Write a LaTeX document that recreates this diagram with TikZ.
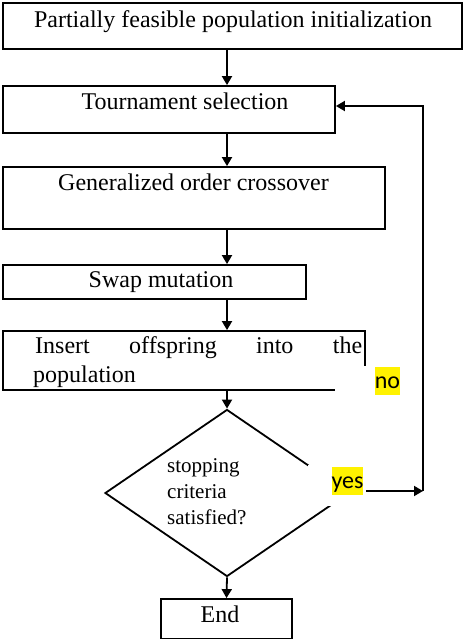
\documentclass[tikz,border=0pt]{standalone}
\usepackage{fontspec}
\setmainfont{Liberation Serif}
\newfontfamily\labelfont{Carlito}
\usetikzlibrary{arrows.meta,shapes.geometric}
\begin{document}
\begin{tikzpicture}[x=1pt,y=-1pt,
  stepbox/.style={draw,rectangle,line width=1.8pt,inner sep=0pt},
  txt/.style={inner sep=0pt,anchor=base,font=\fontsize{24}{29}\selectfont},
  arr/.style={line width=1.8pt,-{Triangle[length=9pt,width=10pt]}},
  cover/.style={fill=white,draw=none,inner sep=0pt},
  hl/.style={fill=yellow,inner sep=0pt,anchor=base,font=\labelfont\fontsize{24}{24}\selectfont,text height=21pt,text depth=6.5pt}]
\useasboundingbox (0,0) rectangle (463,640);

% process boxes
\node[stepbox,minimum width=459pt,minimum height=46pt] (b1) at (232.5,26) {};
\node[stepbox,minimum width=332pt,minimum height=47pt] (b2) at (169,109.5) {};
\node[stepbox,minimum width=382pt,minimum height=62pt] (b3) at (194,198) {};
\node[stepbox,minimum width=303pt,minimum height=34pt] (b4) at (154.5,282) {};
\node[stepbox,minimum width=362pt,minimum height=59pt] (b5) at (184,360.5) {};
\node[stepbox,diamond,minimum width=244pt,minimum height=167pt] (dia) at (227,493) {};
\node[stepbox,minimum width=131pt,minimum height=39.5pt] (end) at (226.5,618.75) {};

% box texts
\node[txt] (t1) at (233,27) {Partially feasible population initialization};
\node[txt] (t2) at (185,109) {Tournament selection};
\node[txt] (t3) at (193.5,190) {Generalized order crossover};
\node[txt] (t4) at (161,287) {Swap mutation};
\node[txt,anchor=base west] (t5a) at (35,353) {\makebox[327pt][s]{Insert offspring into the}};
\node[txt,anchor=base west] (t5b) at (33,382) {population};
\node[inner sep=0pt,anchor=base west,align=left,font=\fontsize{21}{26}\selectfont] (td) at (167,524) {stopping\\criteria\\satisfied?};
\node[txt] (t6) at (220,622) {End};

% main flow
\draw[arr] (b1.south -| dia.north) -- (b2.north -| dia.north);
\draw[arr] (b2.south -| dia.north) -- (b3.north -| dia.north);
\draw[arr] (b3.south -| dia.north) -- (b4.north -| dia.north);
\draw[arr] (b4.south -| dia.north) -- (b5.north -| dia.north);
\draw[arr] (b5.south -| dia.north) -- (dia.north);
\draw[arr] (dia.south) -- (end.north);

% answer labels on white text boxes
\node[cover,minimum width=70pt,minimum height=32pt] (nocover) at (370,382) {};
\node[hl] (no) at (387.5,388) {no};
\node[cover,minimum width=58pt,minimum height=41pt] (yescover) at (337,485.5) {};
\node[hl] (yes) at (347.5,488) {yes};

% loop back to selection
\coordinate (loop) at (423,491);
\coordinate (ret) at (423,106);
\draw[arr] (yescover.east |- loop) -- (loop);
\draw[arr] (loop) -- (ret) -- (ret -| b2.east);
\end{tikzpicture}
\end{document}
